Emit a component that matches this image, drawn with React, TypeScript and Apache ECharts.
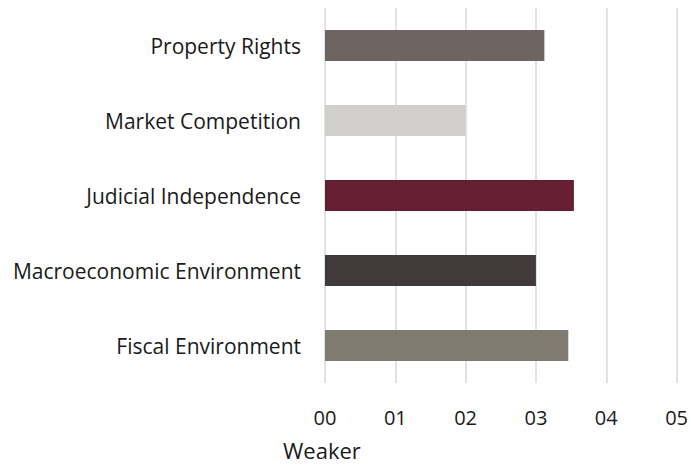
import React, { useEffect, useRef } from "react";
import * as echarts from "echarts";

const categories = [
  "Property Rights",
  "Market Competition",
  "Judicial Independence",
  "Macroeconomic Environment",
  "Fiscal Environment",
];
const values = [3.12, 2.0, 3.54, 3.0, 3.46];
const barColors = ["#6e6562", "#d0cfcb", "#661e33", "#403a3b", "#807b71"];
const xTicks = [0, 1, 2, 3, 4, 5];
const axisNote = "Weaker";

export default function App() {
  const ref = useRef<HTMLDivElement>(null);
  useEffect(() => {
    if (!ref.current) return;
    const chart = echarts.init(ref.current, undefined, { renderer: "svg" });
    const font = "Open Sans, Noto Sans, sans-serif";
    chart.setOption({
      animation: false,
      grid: { left: 325, right: 13, top: 8, bottom: 83, containLabel: false },
      xAxis: {
        type: "value",
        min: xTicks[0],
        max: xTicks[xTicks.length - 1],
        interval: 1,
        axisLine: { show: false },
        axisTick: { show: false },
        splitLine: { show: true, lineStyle: { color: "#d9d9d9", width: 1.5 } },
        axisLabel: {
          margin: 24,
          fontSize: 20,
          color: "#1a1a1a",
          fontFamily: font,
          formatter: (v: number) => (v < 10 ? "0" + v : String(v)),
        },
      },
      yAxis: {
        type: "category",
        inverse: true,
        data: categories,
        axisLine: { show: false },
        axisTick: { show: false },
        splitLine: { show: false },
        axisLabel: {
          margin: 24,
          fontSize: 21,
          color: "#1a1a1a",
          fontFamily: font,
        },
      },
      series: [
        {
          type: "bar",
          data: values.map((v, i) => ({ value: v, itemStyle: { color: barColors[i] } })),
          barWidth: 31,
        },
      ],
      graphic: [
        {
          type: "text",
          left: 283,
          top: 439,
          style: { text: axisNote, fontSize: 22, fill: "#1a1a1a", fontFamily: font },
        },
      ],
    });
    return () => chart.dispose();
  }, []);
  return <div ref={ref} style={{ width: 691, height: 466, position: "absolute", left: 0, top: 0 }} />;
}
